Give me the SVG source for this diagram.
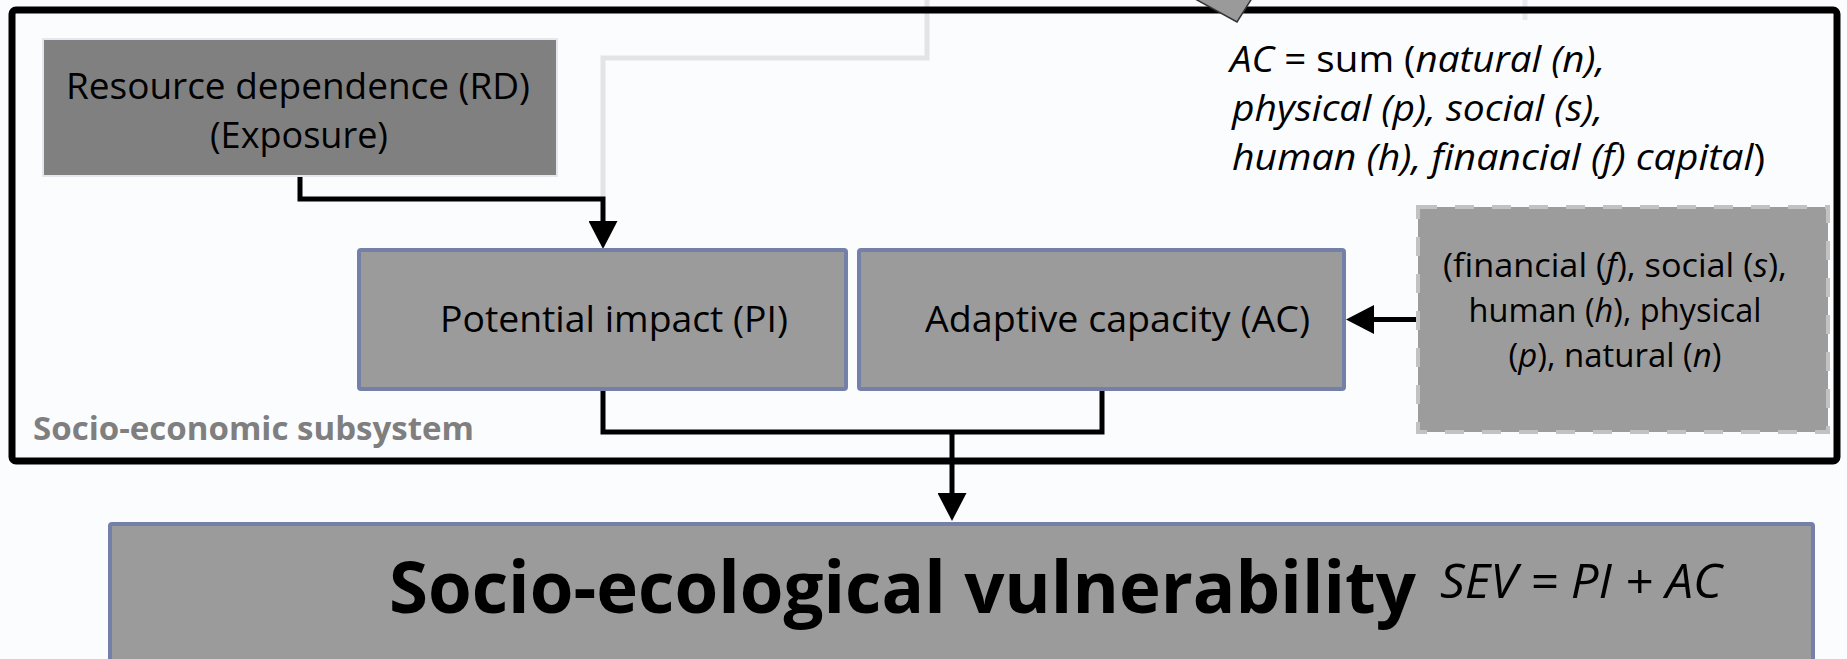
<svg xmlns="http://www.w3.org/2000/svg" width="1847" height="659" viewBox="0 0 1847 659">
  <defs>
    <style>
      .txt { font-family: "Open Sans", "Liberation Sans", sans-serif; fill: #000; }
      .it { font-style: italic; }
      .box { fill: #9b9b9b; stroke: #7480a8; stroke-width: 4; }
      .wire { fill: none; stroke: #000; stroke-width: 5; }
    </style>
    <marker id="head" viewBox="0 0 28 29" refX="1" refY="14.5" markerWidth="28" markerHeight="29" markerUnits="userSpaceOnUse" orient="auto">
      <path d="M0,0 L28,14.5 L0,29 Z" fill="#000"/>
    </marker>
  </defs>

  <!-- page background -->
  <rect x="0" y="0" width="1847" height="659" fill="#fbfcfe"/>

  <!-- links coming in from above, and between the nodes -->
  <g id="connectors">
    <path d="M1525,0 V20" fill="none" stroke="#e8eaf1" stroke-width="5"/>
    <path d="M927,0 V58 H603 V199" fill="none" stroke="#e2e4e6" stroke-width="5"/>
    <path class="wire" d="M300,176 V199 H603 V222" marker-end="url(#head)"/>
    <path class="wire" d="M603,389 V432 H1102 V389"/>
    <path class="wire" d="M952,432 V494" marker-end="url(#head)"/>
    <path class="wire" d="M1418,319.5 H1373" stroke-width="6" marker-end="url(#head)"/>
  </g>

  <!-- socio-economic subsystem container -->
  <g id="subsystem">
    <rect x="12" y="10" width="1825" height="451" rx="4" fill="none" stroke="#000" stroke-width="7"/>
    <text class="txt" x="33" y="440" font-size="33" font-weight="bold" fill="#7f7f7f" style="fill:#7f7f7f" textLength="441" lengthAdjust="spacingAndGlyphs">Socio-economic subsystem</text>
  </g>

  <!-- arrowhead of the incoming link, drawn over the container edge -->
  <polygon points="1188,-5 1254,-5 1237,22" fill="#9a9a9a" stroke="#333" stroke-width="1.5"/>

  <g id="node-rd">
    <rect x="43" y="39" width="514" height="137" fill="#808080" stroke="#e4e8ee" stroke-width="2"/>
    <text class="txt" x="298" y="99" font-size="37" text-anchor="middle" textLength="464" lengthAdjust="spacingAndGlyphs">Resource dependence (RD)</text>
    <text class="txt" x="299" y="148" font-size="37" text-anchor="middle" textLength="178" lengthAdjust="spacingAndGlyphs">(Exposure)</text>
  </g>

  <g id="node-pi">
    <rect class="box" x="359" y="250" width="487" height="139" rx="2"/>
    <text class="txt" x="614" y="332" font-size="37" text-anchor="middle" textLength="348" lengthAdjust="spacingAndGlyphs">Potential impact (PI)</text>
  </g>

  <g id="node-ac">
    <rect class="box" x="859" y="250" width="485" height="139" rx="2"/>
    <text class="txt" x="1117.5" y="332" font-size="37" text-anchor="middle" textLength="385" lengthAdjust="spacingAndGlyphs">Adaptive capacity (AC)</text>
  </g>

  <g id="node-capitals">
    <rect x="1418" y="207" width="410" height="225" fill="#9c9c9c" stroke="#c2c2c2" stroke-width="4" stroke-dasharray="19 18"/>
    <text class="txt" x="1615" y="277" font-size="33" text-anchor="middle" textLength="344" lengthAdjust="spacingAndGlyphs">(financial (<tspan class="it">f</tspan>), social (<tspan class="it">s</tspan>),</text>
    <text class="txt" x="1615" y="322" font-size="33" text-anchor="middle" textLength="293" lengthAdjust="spacingAndGlyphs">human (<tspan class="it">h</tspan>), physical</text>
    <text class="txt" x="1615" y="367" font-size="33" text-anchor="middle" textLength="213" lengthAdjust="spacingAndGlyphs">(<tspan class="it">p</tspan>), natural (<tspan class="it">n</tspan>)</text>
  </g>

  <g id="ac-formula">
    <text class="txt" x="1230" y="72" font-size="37" textLength="375" lengthAdjust="spacingAndGlyphs"><tspan class="it">AC</tspan> = sum (<tspan class="it">natural (n),</tspan></text>
    <text class="txt it" x="1232" y="121" font-size="37" textLength="371" lengthAdjust="spacingAndGlyphs">physical (p), social (s),</text>
    <text class="txt" x="1232" y="170" font-size="37" textLength="533" lengthAdjust="spacingAndGlyphs"><tspan class="it">human (h), financial (f) capital</tspan>)</text>
  </g>

  <g id="node-sev">
    <rect class="box" x="110" y="524" width="1703" height="150" rx="2"/>
    <text class="txt" x="389" y="613" font-size="71" font-weight="bold" textLength="1027" lengthAdjust="spacingAndGlyphs">Socio-ecological vulnerability</text>
    <text class="txt it" x="1440" y="598" font-size="47" textLength="282" lengthAdjust="spacingAndGlyphs">SEV = PI + AC</text>
  </g>
</svg>
